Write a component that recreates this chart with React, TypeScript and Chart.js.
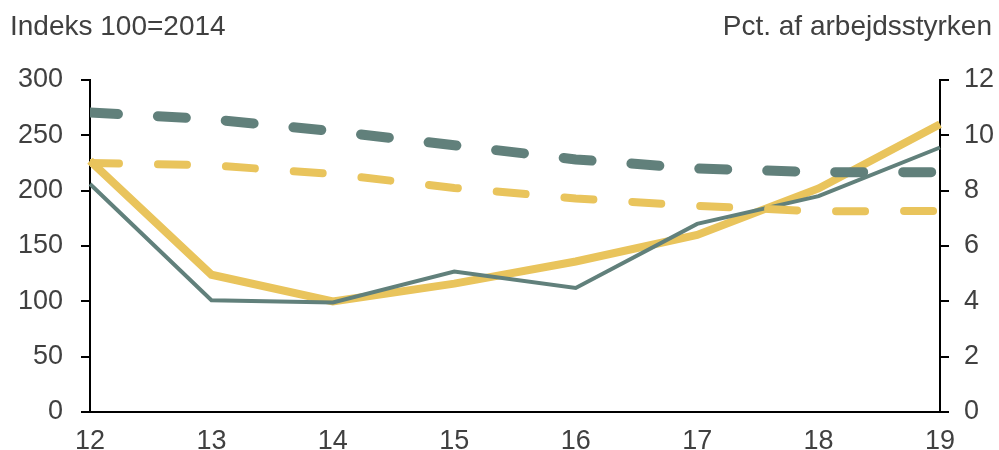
import React, { useEffect, useRef } from "react";
import { Chart, registerables } from "chart.js";

Chart.register(...registerables);

const categories = ["12", "13", "14", "15", "16", "17", "18", "19"];
const indexYellow = [227, 124, 100, 116, 136, 160, 202, 260];
const indexGray = [206, 101, 99, 127, 112, 170, 195, 239];
const pctYellow = [9.0, 8.92, 8.6, 8.1, 7.72, 7.45, 7.25, 7.27];
const pctGray = [10.83, 10.58, 10.15, 9.64, 9.13, 8.8, 8.67, 8.67];
const leftTitle = "Indeks 100=2014";
const rightTitle = "Pct. af arbejdsstyrken";

const YELLOW = "#E9C45C";
const GRAY = "#61807B";
const TEXT = "#404040";
const FONT = "'Liberation Sans', Arial, sans-serif";

export default function App() {
  const ref = useRef<HTMLCanvasElement | null>(null);

  useEffect(() => {
    if (!ref.current) return;
    const titles = {
      id: "axisTitles",
      afterDraw(chart: any) {
        const ctx = chart.ctx;
        ctx.save();
        ctx.font = `28px ${FONT}`;
        ctx.fillStyle = TEXT;
        ctx.textBaseline = "alphabetic";
        ctx.textAlign = "left";
        ctx.fillText(leftTitle, 10, 35);
        ctx.textAlign = "right";
        ctx.fillText(rightTitle, 992, 35);
        ctx.restore();
      },
    };
    const tickFont = { family: FONT, size: 27 };
    const chart = new Chart(ref.current, {
      type: "line",
      data: {
        labels: categories,
        datasets: [
          {
            data: pctGray,
            yAxisID: "y1",
            borderColor: GRAY,
            borderWidth: 10,
            borderDash: [28, 40],
            borderCapStyle: "round",
            pointRadius: 0,
            tension: 0,
            clip: 0,
            order: 1,
          },
          {
            data: pctYellow,
            yAxisID: "y1",
            borderColor: YELLOW,
            borderWidth: 8,
            borderDash: [29, 39],
            borderCapStyle: "round",
            pointRadius: 0,
            tension: 0,
            clip: 0,
            order: 2,
          },
          {
            data: indexGray,
            yAxisID: "y",
            borderColor: GRAY,
            borderWidth: 4,
            pointRadius: 0,
            tension: 0,
            order: 3,
          },
          {
            data: indexYellow,
            yAxisID: "y",
            borderColor: YELLOW,
            borderWidth: 8,
            pointRadius: 0,
            tension: 0,
            order: 4,
          },
        ],
      },
      options: {
        responsive: false,
        animation: false,
        layout: { padding: { top: 80, left: 0, right: 0, bottom: 0 } },
        plugins: { legend: { display: false }, tooltip: { enabled: false }, title: { display: false } },
        scales: {
          x: {
            type: "category",
            offset: false,
            grid: { display: false },
            border: { display: true, color: "#000", width: 2 },
            ticks: { color: TEXT, font: tickFont, padding: 5, maxRotation: 0, autoSkip: false },
            afterFit: (s: any) => {
              s.height = 38;
            },
          },
          y: {
            position: "left",
            min: 0,
            max: 300,
            ticks: { stepSize: 50, color: TEXT, font: tickFont, padding: 18 },
            grid: { drawOnChartArea: false, color: "#000", lineWidth: 2, tickLength: 9 },
            border: { display: true, color: "#000", width: 2 },
            afterFit: (s: any) => {
              s.width = 90;
            },
          },
          y1: {
            position: "right",
            min: 0,
            max: 12,
            ticks: { stepSize: 2, color: TEXT, font: tickFont, padding: 15 },
            grid: { drawOnChartArea: false, color: "#000", lineWidth: 2, tickLength: 9 },
            border: { display: true, color: "#000", width: 2 },
            afterFit: (s: any) => {
              s.width = 59;
            },
          },
        },
      },
      plugins: [titles],
    });
    return () => chart.destroy();
  }, []);

  return (
    <div style={{ position: "absolute", left: 0, top: 0, width: 999, height: 450, background: "#fff" }}>
      <canvas ref={ref} width={999} height={450} />
    </div>
  );
}
